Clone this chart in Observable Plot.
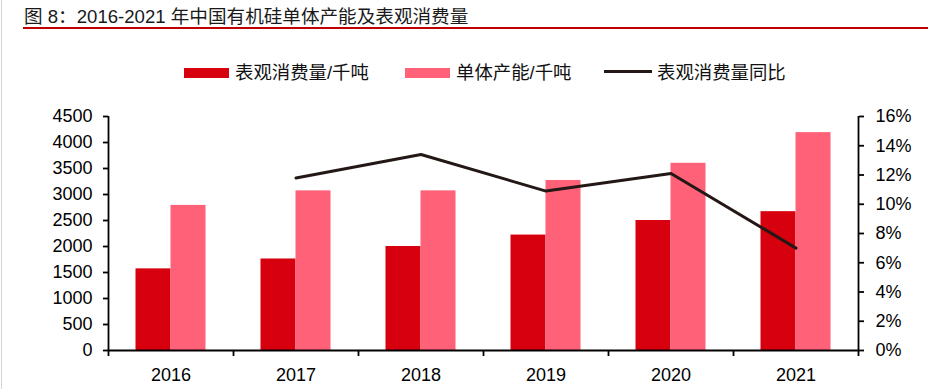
<!DOCTYPE html>
<html><head><meta charset="utf-8">
<script src="https://cdn.jsdelivr.net/npm/d3@7"></script>
<script src="https://cdn.jsdelivr.net/npm/@observablehq/plot@0.6"></script>
<style>
html,body{margin:0;padding:0;background:#fff;}
body{width:928px;height:389px;position:relative;overflow:hidden;font-family:"Liberation Sans","Noto Sans CJK SC",sans-serif;color:#000;}
#edge{position:absolute;left:1px;top:0;width:1px;height:389px;background:#d4d4d4;}
#title{position:absolute;left:24px;top:7px;font-size:18.6px;line-height:20px;color:#1a1a1a;white-space:nowrap;}
#rule{position:absolute;left:23px;right:0;top:27px;height:2px;background:#c00000;}
.sw{position:absolute;}
.lt{position:absolute;top:62px;font-size:18.4px;line-height:22px;white-space:nowrap;color:#111;}
#chart{position:absolute;left:0;top:95px;}
</style></head>
<body>
<div id="edge"></div>
<div id="title">图 8：2016-2021 年中国有机硅单体产能及表观消费量</div>
<div id="rule"></div>
<div id="legend"></div>
<div id="chart"></div>
<script>
const years = ["2016","2017","2018","2019","2020","2021"];
const consumption = [1570,1760,2000,2220,2500,2670];
const capacity = [2790,3070,3070,3270,3600,4190];
const growthYears = ["2017","2018","2019","2020","2021"];
const growth = [11.8,13.4,10.9,12.1,7.0];
const leftTicks = [0,500,1000,1500,2000,2500,3000,3500,4000,4500];
const rightTicks = [0,2,4,6,8,10,12,14,16];
const seriesNames = ["表观消费量/千吨","单体产能/千吨","表观消费量同比"];
const colors = ["#D7000F","#FF6178","#231815"];

const yMax = 4500, pMax = 16;
const toY = p => p * yMax / pMax;
const barW = 0.28;

const consData = years.map((year,i)=>({year, i, value: consumption[i]}));
const capData = years.map((year,i)=>({year, i, value: capacity[i]}));
const growthData = growthYears.map((year,k)=>({year, i: years.indexOf(year), value: growth[k]}));

// legend
const legend = document.getElementById("legend");
const legendItems = [
  {sw:{left:184,top:68,width:45,height:10}, tx:235},
  {sw:{left:405,top:68,width:45,height:10}, tx:456},
  {sw:{left:604,top:69.5,width:48,height:3}, tx:657}
];
legendItems.forEach((it,k)=>{
  const s = document.createElement("div");
  s.className="sw";
  Object.assign(s.style,{left:it.sw.left+"px",top:it.sw.top+"px",width:it.sw.width+"px",height:it.sw.height+"px",background:colors[k]});
  legend.appendChild(s);
  const t = document.createElement("div");
  t.className="lt";
  t.style.left = it.tx+"px";
  t.textContent = seriesNames[k];
  legend.appendChild(t);
});

const n = years.length;
const chart = Plot.plot({
  width: 928, height: 294,
  marginLeft: 108, marginRight: 70, marginTop: 21, marginBottom: 39,
  style: {fontFamily: "'Liberation Sans', Arial, sans-serif", fontSize: "18px", color: "#000", background: "transparent", overflow: "visible"},
  x: {type: "linear", domain: [-0.5, n - 0.5]},
  y: {domain: [0, yMax]},
  marks: [
    Plot.rect(consData, {x1: d => d.i - barW, x2: d => d.i, y1: 0, y2: "value", fill: colors[0]}),
    Plot.rect(capData, {x1: d => d.i, x2: d => d.i + barW, y1: 0, y2: "value", fill: colors[1]}),
    Plot.line(growthData, {x: "i", y: d => toY(d.value), stroke: colors[2], strokeWidth: 3}),
    Plot.ruleX([-0.5], {y1: 0, y2: yMax, stroke: "#000", strokeWidth: 1.8}),
    Plot.ruleX([n - 0.5], {y1: 0, y2: yMax, stroke: "#000", strokeWidth: 1.8}),
    Plot.ruleY([0], {x1: -0.5, x2: n - 0.5, stroke: "#000", strokeWidth: 1.8}),
    Plot.axisY({anchor: "left", ticks: leftTicks, tickSize: 5, tickPadding: 11, strokeWidth: 1.8, tickFormat: d => String(d), label: null}),
    Plot.axisY({anchor: "right", ticks: rightTicks.map(toY), tickSize: 5, tickPadding: 12, strokeWidth: 1.8, tickFormat: v => Math.round(v * pMax / yMax) + "%", label: null}),
    Plot.axisX({ticks: d3.range(-0.5, n), tickSize: 6, strokeWidth: 1.8, tickFormat: () => "", label: null}),
    Plot.axisX({ticks: d3.range(n), tickSize: 0, tickPadding: 18, tickFormat: i => years[i], label: null})
  ]
});
document.getElementById("chart").appendChild(chart);
</script>
</body></html>
